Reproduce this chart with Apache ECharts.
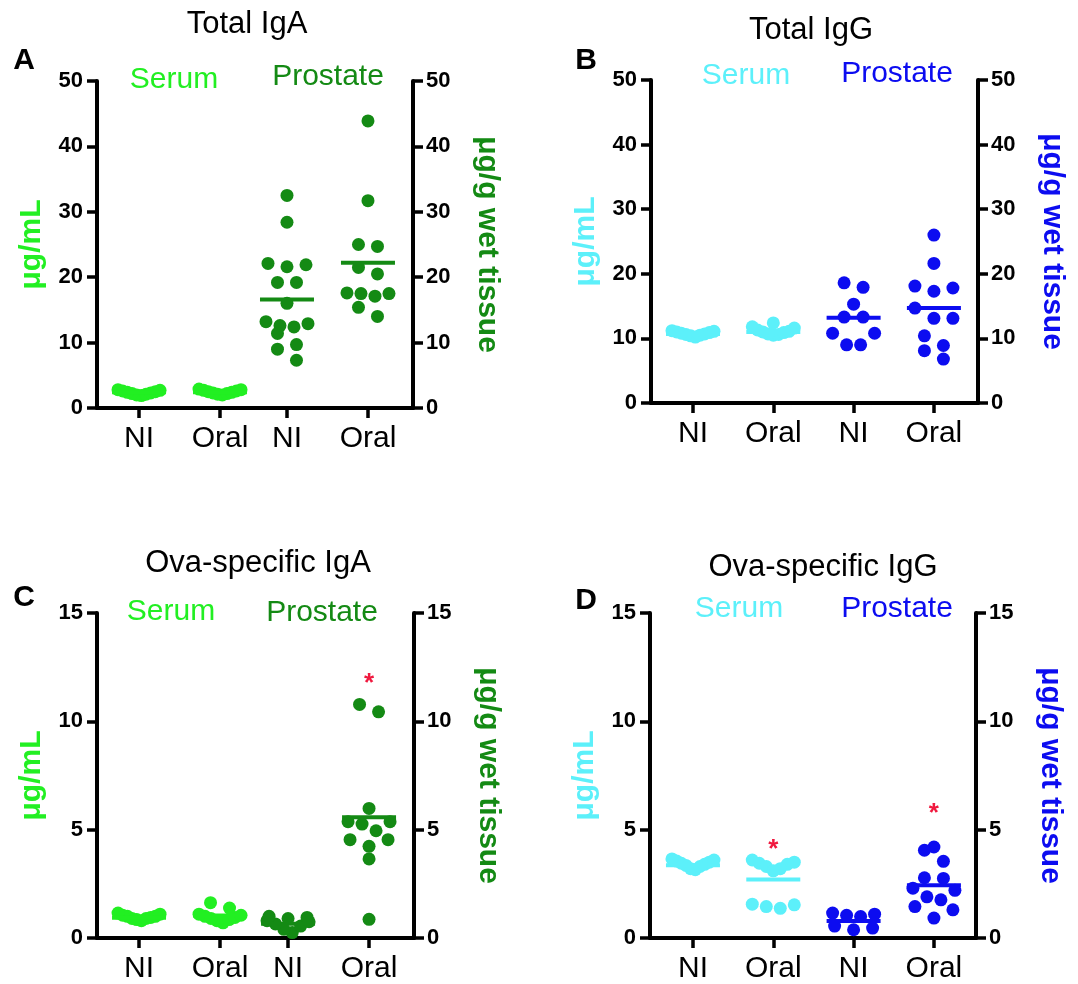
<!DOCTYPE html>
<html>
<head>
<meta charset="utf-8">
<title>Total and Ova-specific IgA / IgG</title>
<script src="https://cdn.jsdelivr.net/npm/echarts@6/dist/echarts.min.js"></script>
<style>
  html, body { margin: 0; padding: 0; background: #fff; }
  #main { width: 1078px; height: 984px; }
</style>
</head>
<body>
<div id="main"></div>
<script>
// categories, same in every panel
const groups = ['NI', 'Oral', 'NI', 'Oral'];

// A  Total IgA
const igaSerumNI = [1.9, 2.0, 2.1, 2.2, 2.3, 2.4, 2.5, 2.6, 2.7, 2.8];
const igaSerumOral = [2.0, 2.1, 2.2, 2.3, 2.4, 2.5, 2.6, 2.7, 2.8, 2.9];
const igaProstNI = [32.5, 28.4, 22.1, 21.9, 21.6, 19.2, 19.2, 16.0, 13.2, 12.9, 12.6, 12.4, 11.4, 9.7, 9.0, 7.3];
const igaProstOral = [43.9, 31.7, 25.0, 24.7, 21.5, 20.5, 17.6, 17.5, 17.5, 17.1, 15.4, 14.0];
const igaMeans = [2.4, 2.4, 16.6, 22.2];

// B  Total IgG
const iggSerumNI = [10.2, 10.4, 10.5, 10.6, 10.7, 10.8, 10.9, 11.0, 11.1, 11.2];
const iggSerumOral = [10.5, 10.6, 10.7, 10.9, 11.0, 11.1, 11.3, 11.6, 11.8, 12.4];
const iggProstNI = [18.6, 17.9, 15.3, 13.3, 13.3, 10.8, 10.8, 9.0, 9.0];
const iggProstOral = [26.0, 21.6, 18.1, 17.8, 17.3, 14.7, 13.1, 13.1, 10.4, 8.9, 8.1, 6.8];
const iggMeans = [10.7, 11.0, 13.2, 14.7];

// C  Ova-specific IgA
const ovaIgaSerumNI = [0.8, 0.85, 0.9, 0.9, 0.95, 1.0, 1.0, 1.05, 1.1, 1.15];
const ovaIgaSerumOral = [0.7, 0.8, 0.85, 0.9, 0.95, 1.0, 1.05, 1.1, 1.38, 1.63];
const ovaIgaProstNI = [0.25, 0.4, 0.55, 0.65, 0.75, 0.8, 0.9, 0.95, 1.0];
const ovaIgaProstOral = [10.78, 10.44, 5.98, 5.37, 5.37, 5.26, 4.95, 4.54, 4.54, 4.23, 3.65, 0.86];
const ovaIgaMeans = [0.94, 1.04, 0.66, 5.57];
const ovaIgaStars = [null, null, null, 12.0];

// D  Ova-specific IgG
const ovaIggSerumNI = [3.15, 3.2, 3.3, 3.35, 3.4, 3.45, 3.5, 3.55, 3.6, 3.65];
const ovaIggSerumOral = [3.6, 3.5, 3.45, 3.4, 3.3, 3.2, 3.1, 1.56, 1.53, 1.45, 1.37];
const ovaIggProstNI = [1.15, 1.1, 1.05, 0.99, 0.55, 0.46, 0.38];
const ovaIggProstOral = [4.2, 4.05, 3.54, 2.78, 2.75, 2.3, 2.2, 1.9, 1.76, 1.45, 1.3, 0.92];
const ovaIggMeans = [3.36, 2.70, 0.79, 2.44];
const ovaIggStars = [null, 4.35, null, 6.0];

const FONT = "'Liberation Sans', Arial, sans-serif";
const GREEN_L = '#22ef22';
const GREEN_D = '#148a14';
const CYAN = '#5cf0fa';
const BLUE = '#0c0cf0';
const RED = '#f0193f';

// dot swarm: rows of near values spread sideways, lowest in the middle
const DOT = 13, ROW_PX = 12, SLOT_PX = 19, SPAN_PX = 42;

const panels = [
  {
    title: 'Total IgA', letter: 'A',
    grid: { left: 97, top: 81, width: 316, height: 327 },
    xMin: -0.519, xMax: 3.383, groupX: [0, 1, 1.827, 2.827],
    yMax: 50, yStep: 10,
    sets: [igaSerumNI, igaSerumOral, igaProstNI, igaProstOral],
    means: igaMeans, stars: null,
    serumColor: GREEN_L, prostColor: GREEN_D,
    titlePos: [247, 24], letterPos: [24, 61], serumPos: [174, 80], prostPos: [328, 77]
  },
  {
    title: 'Total IgG', letter: 'B',
    grid: { left: 651, top: 80, width: 327, height: 323 },
    xMin: -0.523, xMax: 3.549, groupX: [0, 1, 2, 3],
    yMax: 50, yStep: 10,
    sets: [iggSerumNI, iggSerumOral, iggProstNI, iggProstOral],
    means: iggMeans, stars: null,
    serumColor: CYAN, prostColor: BLUE,
    titlePos: [811, 30], letterPos: [586, 61], serumPos: [746, 76], prostPos: [897, 74]
  },
  {
    title: 'Ova-specific IgA', letter: 'C',
    grid: { left: 97, top: 613, width: 317, height: 327 },
    xMin: -0.519, xMax: 3.395, groupX: [0, 1, 1.84, 2.84],
    yMax: 15, yStep: 5,
    sets: [ovaIgaSerumNI, ovaIgaSerumOral, ovaIgaProstNI, ovaIgaProstOral],
    means: ovaIgaMeans, stars: ovaIgaStars,
    serumColor: GREEN_L, prostColor: GREEN_D,
    titlePos: [258, 563], letterPos: [24, 598], serumPos: [171, 612], prostPos: [322, 613]
  },
  {
    title: 'Ova-specific IgG', letter: 'D',
    grid: { left: 650, top: 613, width: 326, height: 326 },
    xMin: -0.535, xMax: 3.524, groupX: [0, 1, 2, 3],
    yMax: 15, yStep: 5,
    sets: [ovaIggSerumNI, ovaIggSerumOral, ovaIggProstNI, ovaIggProstOral],
    means: ovaIggMeans, stars: ovaIggStars,
    serumColor: CYAN, prostColor: BLUE,
    titlePos: [823, 567], letterPos: [586, 601], serumPos: [739, 609], prostPos: [897, 609]
  }
];

function swarm(values, pxPerY) {
  const order = values.map((v, k) => k).sort((a, b) => values[a] - values[b]);
  const rows = [];
  order.forEach(k => {
    const row = rows[rows.length - 1];
    if (row && (values[k] - values[row[0]]) * pxPerY < ROW_PX) row.push(k);
    else rows.push([k]);
  });
  const off = new Array(values.length).fill(0);
  rows.forEach(row => {
    const n = row.length;
    const step = n > 1 ? Math.min(SLOT_PX, SPAN_PX / (n - 1)) : 0;
    const slots = row.map((_, j) => (j - (n - 1) / 2) * step)
      .sort((a, b) => Math.abs(a) - Math.abs(b) || b - a);
    row.forEach((k, j) => { off[k] = slots[j]; });
  });
  return off;
}

const yLine = { show: true, onZero: false, lineStyle: { color: '#000', width: 4 } };
const axisTick = { show: true, length: 10, lineStyle: { color: '#000', width: 3.5 } };
const tickLabel = { color: '#000', fontSize: 22, fontWeight: 'bold', fontFamily: FONT };

function buildOption(scales) {
  const grid = [], xAxis = [], yAxis = [], series = [], texts = [];
  panels.forEach((p, i) => {
    const colors = [p.serumColor, p.serumColor, p.prostColor, p.prostColor];
    grid.push(Object.assign({ containLabel: false }, p.grid));
    xAxis.push({
      gridIndex: i, type: 'value', min: p.xMin, max: p.xMax,
      axisLine: { show: true, onZero: false, lineStyle: { color: '#000', width: 4 } },
      axisTick: Object.assign({ customValues: p.groupX }, axisTick),
      axisLabel: {
        customValues: p.groupX,
        formatter: v => groups[p.groupX.indexOf(v)],
        color: '#000', fontSize: 30, fontFamily: FONT, margin: 16
      },
      splitLine: { show: false }
    });
    yAxis.push({
      gridIndex: i, type: 'value', position: 'left', min: 0, max: p.yMax, interval: p.yStep,
      axisLine: yLine, axisTick: axisTick,
      axisLabel: Object.assign({ margin: 14 }, tickLabel),
      splitLine: { show: false },
      name: 'μg/mL', nameLocation: 'middle', nameRotate: 90, nameGap: 50,
      nameTextStyle: { color: p.serumColor, fontSize: 30, fontWeight: 'bold', fontFamily: FONT }
    });
    yAxis.push({
      gridIndex: i, type: 'value', position: 'right', min: 0, max: p.yMax, interval: p.yStep,
      axisLine: yLine, axisTick: axisTick,
      axisLabel: Object.assign({ margin: 13 }, tickLabel),
      splitLine: { show: false },
      name: 'μg/g wet tissue', nameLocation: 'middle', nameRotate: -90, nameGap: 59,
      nameTextStyle: { color: p.prostColor, fontSize: 30, fontWeight: 'bold', fontFamily: FONT }
    });

    p.sets.forEach((vals, g) => {
      let data;
      if (scales) {
        const off = swarm(vals, scales[i].pxPerY);
        data = vals.map((v, k) => [p.groupX[g] + off[k] / scales[i].pxPerX, v]);
      } else {
        data = vals.map(v => [p.groupX[g], v]);
      }
      series.push({
        type: 'scatter', xAxisIndex: i, yAxisIndex: 2 * i,
        symbol: 'circle', symbolSize: DOT, silent: true, z: 2,
        itemStyle: { color: colors[g], opacity: 1 },
        data: data
      });
    });

    series.push({
      type: 'custom', xAxisIndex: i, yAxisIndex: 2 * i, silent: true, z: 5,
      data: p.means.map((m, g) => [p.groupX[g], m, g]),
      renderItem: (params, api) => {
        const c = api.coord([api.value(0), api.value(1)]);
        return {
          type: 'line',
          shape: { x1: c[0] - 27, y1: c[1], x2: c[0] + 27, y2: c[1] },
          style: { stroke: colors[api.value(2)], lineWidth: 4 }
        };
      }
    });

    if (p.stars) {
      series.push({
        type: 'custom', xAxisIndex: i, yAxisIndex: 2 * i, silent: true, z: 6,
        data: p.stars.map((s, g) => [p.groupX[g], s]).filter(d => d[1] != null),
        renderItem: (params, api) => {
          const c = api.coord([api.value(0), api.value(1)]);
          return {
            type: 'text', x: c[0], y: c[1] + 6,
            style: { text: '*', fill: RED, fontSize: 26, fontWeight: 'bold', fontFamily: FONT, align: 'center', verticalAlign: 'middle' }
          };
        }
      });
    }

    texts.push({ type: 'text', x: p.titlePos[0], y: p.titlePos[1],
      style: { text: p.title, fill: '#000', fontSize: 31, fontFamily: FONT, align: 'center', verticalAlign: 'middle' } });
    texts.push({ type: 'text', x: p.letterPos[0], y: p.letterPos[1],
      style: { text: p.letter, fill: '#000', fontSize: 30, fontWeight: 'bold', fontFamily: FONT, align: 'center', verticalAlign: 'middle' } });
    texts.push({ type: 'text', x: p.serumPos[0], y: p.serumPos[1],
      style: { text: 'Serum', fill: p.serumColor, fontSize: 30, fontFamily: FONT, align: 'center', verticalAlign: 'middle' } });
    texts.push({ type: 'text', x: p.prostPos[0], y: p.prostPos[1],
      style: { text: 'Prostate', fill: p.prostColor, fontSize: 30, fontFamily: FONT, align: 'center', verticalAlign: 'middle' } });
  });

  return {
    backgroundColor: '#fff',
    animation: false,
    textStyle: { fontFamily: FONT },
    graphic: { elements: texts },
    grid: grid, xAxis: xAxis, yAxis: yAxis, series: series
  };
}

const chart = echarts.init(document.getElementById('main'), null, { renderer: 'canvas' });
chart.setOption(buildOption(null));

// pixel size of one unit on each panel's axes, from the laid-out chart
const scales = panels.map((p, i) => ({
  pxPerX: Math.abs(chart.convertToPixel({ xAxisIndex: i }, 1) - chart.convertToPixel({ xAxisIndex: i }, 0)),
  pxPerY: Math.abs(chart.convertToPixel({ yAxisIndex: 2 * i }, 1) - chart.convertToPixel({ yAxisIndex: 2 * i }, 0))
}));
chart.setOption(buildOption(scales), true);
</script>
</body>
</html>
